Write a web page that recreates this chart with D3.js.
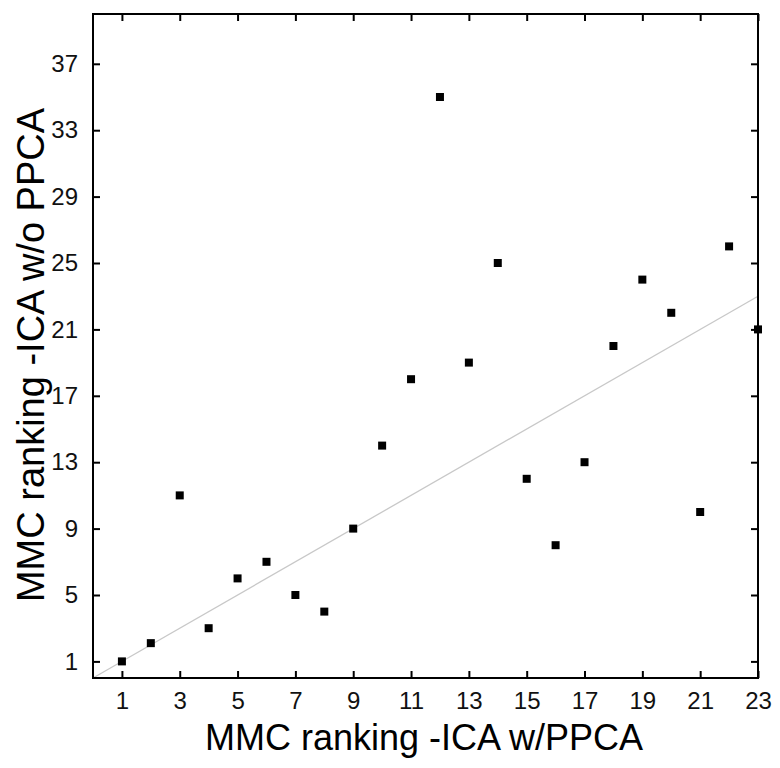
<!DOCTYPE html>
<html>
<head>
<meta charset="utf-8">
<script src="https://cdn.jsdelivr.net/npm/d3@7"></script>
<style>
  body { margin: 0; background: #fff; }
  text { font-family: "Liberation Sans", Arial, sans-serif; }
</style>
</head>
<body>
<div id="chart"></div>
<script>
// rangs MMC : ICA avec PPCA (x) / ICA sans PPCA (y)
var rankWith = [1, 2, 3, 4, 5, 6, 7, 8, 9, 10, 11, 12, 13, 14, 15, 16, 17, 18, 19, 20, 21, 22, 23]
var rankWithout = [1, 2.1, 11, 3, 6, 7, 5, 4, 9, 14, 18, 35, 19, 25, 12, 8, 13, 20, 24, 22, 10, 26, 21]
var xTicks = [1, 3, 5, 7, 9, 11, 13, 15, 17, 19, 21, 23]
var yTicks = [1, 5, 9, 13, 17, 21, 25, 29, 33, 37]
var xLabel = "MMC ranking -ICA w/PPCA"
var yLabel = "MMC ranking -ICA w/o PPCA"

var width = 780
var height = 768
var pLeft = 93, pRight = 758, pTop = 14, pBottom = 678

var svg = d3.select("#chart").append("svg")
	.attr("width", width)
	.attr("height", height)

var x = d3.scaleLinear().domain([0, 23]).range([pLeft, pRight])
var y = d3.scaleLinear().domain([0, 40]).range([pBottom, pTop])

// diagonale y = x
svg.append("line")
	.attr("x1", x(0)).attr("y1", y(0))
	.attr("x2", x(23)).attr("y2", y(23))
	.attr("stroke", "#c8c8c8")
	.attr("stroke-width", 1.3)

// axes (ticks vers l'intérieur, sur les 4 côtés)
function styleAxis(g) {
	g.select(".domain").remove()
	g.selectAll(".tick line").attr("stroke", "#000").attr("stroke-width", 2)
	g.selectAll(".tick text").attr("font-size", "24px").attr("fill", "#111")
}

svg.append("g")
	.attr("transform", "translate(0," + pBottom + ")")
	.call(d3.axisBottom(x).tickValues(xTicks).tickSize(-7).tickPadding(14).tickFormat(d3.format("d")))
	.call(styleAxis)

svg.append("g")
	.attr("transform", "translate(0," + pTop + ")")
	.call(d3.axisTop(x).tickValues(xTicks).tickSize(-7).tickFormat(""))
	.call(styleAxis)

svg.append("g")
	.attr("transform", "translate(" + pLeft + ",0)")
	.call(d3.axisLeft(y).tickValues(yTicks).tickSize(-7).tickPadding(15).tickFormat(d3.format("d")))
	.call(styleAxis)

svg.append("g")
	.attr("transform", "translate(" + pRight + ",0)")
	.call(d3.axisRight(y).tickValues(yTicks).tickSize(-7).tickFormat(""))
	.call(styleAxis)

// cadre
svg.append("rect")
	.attr("x", pLeft).attr("y", pTop)
	.attr("width", pRight - pLeft).attr("height", pBottom - pTop)
	.attr("fill", "none")
	.attr("stroke", "#000")
	.attr("stroke-width", 2)

// points
svg.selectAll("rect.pt")
	.data(rankWith)
	.enter()
	.append("rect")
	.attr("class", "pt")
	.attr("x", (d) => x(d) - 4)
	.attr("y", (d, i) => y(rankWithout[i]) - 4)
	.attr("width", 8)
	.attr("height", 8)
	.attr("fill", "#000")

// titres des axes
svg.append("text")
	.text(xLabel)
	.attr("x", 424)
	.attr("y", 750)
	.attr("text-anchor", "middle")
	.attr("font-size", "36px")
	.attr("fill", "#000")

svg.append("text")
	.text(yLabel)
	.attr("transform", "translate(44,355)rotate(-90)")
	.attr("text-anchor", "middle")
	.attr("font-size", "38px")
	.attr("fill", "#000")
</script>
</body>
</html>
